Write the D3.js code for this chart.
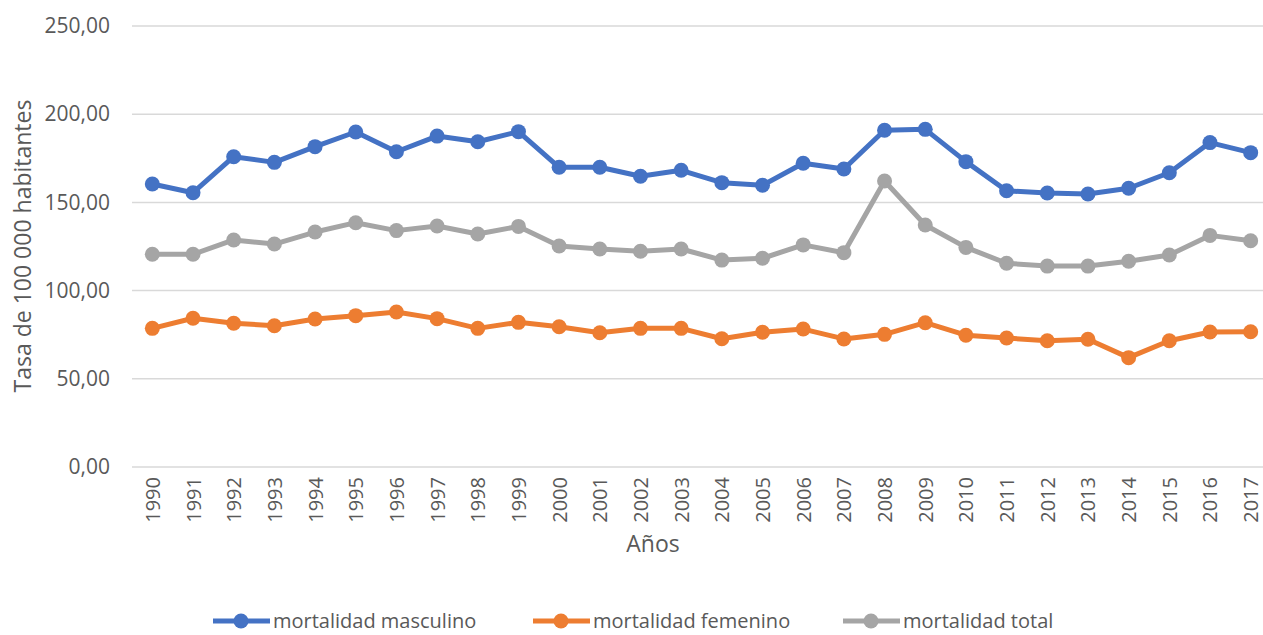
<!DOCTYPE html>
<html lang="es">
  <head>
    <meta charset="utf-8">
    <title>Mortalidad</title>
    <style>
      body { margin: 0; background: #fff; }
      svg { display: block; font-family: "Open Sans", sans-serif; }
    </style>
  </head>
  <body>
    <svg width="1263" height="635"></svg>
    <script src="https://cdn.jsdelivr.net/npm/d3@7"></script>
    <script>
      const years = ['1990','1991','1992','1993','1994','1995','1996','1997','1998','1999',
        '2000','2001','2002','2003','2004','2005','2006','2007','2008','2009',
        '2010','2011','2012','2013','2014','2015','2016','2017'];

      const masculino = [160.4,155.5,175.9,172.7,181.6,189.9,178.7,187.6,184.4,190.1,
        169.9,169.9,164.8,168.2,161.2,159.7,172.2,168.9,190.9,191.4,
        173.1,156.6,155.3,154.8,158.0,166.8,183.9,178.2];
      const femenino = [78.6,84.3,81.5,80.1,83.9,85.8,87.9,84.1,78.6,82.0,
        79.5,76.1,78.6,78.6,72.7,76.4,78.2,72.6,75.2,81.8,
        74.7,73.1,71.6,72.4,62.0,71.6,76.5,76.7];
      const total = [120.6,120.6,128.7,126.4,133.2,138.5,134.0,136.6,132.1,136.4,
        125.3,123.6,122.3,123.6,117.3,118.3,125.9,121.5,162.1,137.2,
        124.5,115.5,113.9,113.9,116.6,120.2,131.3,128.3];

      const yTicks = [0, 50, 100, 150, 200, 250];

      const series = [
        { name: 'mortalidad masculino', values: masculino, color: '#4472C4' },
        { name: 'mortalidad femenino', values: femenino, color: '#ED7D31' },
        { name: 'mortalidad total', values: total, color: '#A5A5A5' }
      ];

      const svg = d3.select('svg');
      const margin = { left: 132, right: 1271, top: 26, bottom: 467 };

      const x = d3.scalePoint().domain(years)
        .range([margin.left, margin.right]).padding(0.5);
      const y = d3.scaleLinear().domain([0, 250]).range([margin.bottom, margin.top]);

      // gridlines
      svg.append('g').selectAll('line')
        .data(yTicks).enter()
        .append('line')
        .attr('x1', margin.left).attr('x2', margin.right)
        .attr('y1', d => y(d)).attr('y2', d => y(d))
        .attr('stroke', '#d9d9d9').attr('stroke-width', 1.5);

      // y axis labels
      const fmt = d => d3.format('.2f')(d).replace('.', ',');
      const yAxis = svg.append('g')
        .attr('transform', `translate(${margin.left - 22},0)`)
        .call(d3.axisLeft(y).tickValues(yTicks).tickFormat(fmt).tickSize(0).tickPadding(0));
      yAxis.select('.domain').remove();
      yAxis.selectAll('text')
        .attr('font-family', '"Open Sans", sans-serif')
        .attr('font-size', 21).attr('fill', '#595959');

      // x axis labels
      const xAxis = svg.append('g')
        .attr('transform', `translate(0,${margin.bottom + 10})`)
        .call(d3.axisBottom(x).tickSize(0).tickPadding(0));
      xAxis.select('.domain').remove();
      xAxis.selectAll('text')
        .attr('font-family', '"Open Sans", sans-serif')
        .attr('font-size', 20).attr('fill', '#595959')
        .attr('text-anchor', 'end')
        .attr('dy', '0.35em')
        .attr('transform', 'rotate(-90)')
        .attr('x', 0).attr('y', 0);

      // axis titles
      svg.append('text')
        .attr('transform', 'translate(31,246) rotate(-90)')
        .attr('text-anchor', 'middle')
        .attr('font-size', 23).attr('fill', '#595959')
        .text('Tasa de 100 000 habitantes');

      svg.append('text')
        .attr('x', 653).attr('y', 552)
        .attr('text-anchor', 'middle')
        .attr('font-size', 23).attr('fill', '#595959')
        .text('Años');

      // lines and markers
      const line = d3.line()
        .x((d, i) => x(years[i]))
        .y(d => y(d));

      const g = svg.append('g').selectAll('g')
        .data(series).enter()
        .append('g');

      g.append('path')
        .attr('d', d => line(d.values))
        .attr('fill', 'none')
        .attr('stroke', d => d.color)
        .attr('stroke-width', 5)
        .attr('stroke-linejoin', 'round');

      g.selectAll('circle')
        .data(d => d.values.map(v => ({ v: v, c: d.color }))).enter()
        .append('circle')
        .attr('cx', (d, i) => x(years[i]))
        .attr('cy', d => y(d.v))
        .attr('r', 7.5)
        .attr('fill', d => d.c);

      // legend
      const legendX = [213, 533, 843];
      const lg = svg.append('g').selectAll('g')
        .data(series).enter()
        .append('g')
        .attr('transform', (d, i) => `translate(${legendX[i]},621)`);
      lg.append('line')
        .attr('x1', 0).attr('x2', 57)
        .attr('stroke', d => d.color).attr('stroke-width', 5);
      lg.append('circle')
        .attr('cx', 28).attr('r', 7.5).attr('fill', d => d.color);
      lg.append('text')
        .attr('x', 60).attr('dy', '0.35em')
        .attr('font-size', 20).attr('fill', '#595959')
        .text(d => d.name);
    </script>
  </body>
</html>
